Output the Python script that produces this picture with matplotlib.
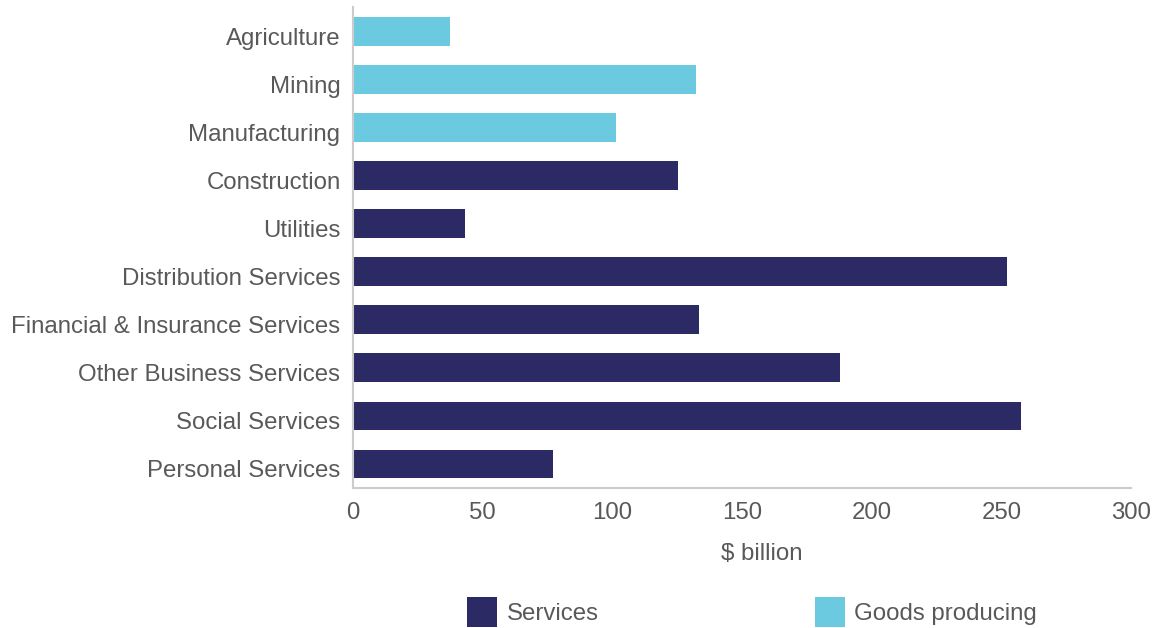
import matplotlib.pyplot as plt
import matplotlib.transforms as mtransforms
from matplotlib.patches import Patch

plt.rcParams['font.family'] = ['Liberation Sans', 'DejaVu Sans']

industries = [
    "Agriculture", "Mining", "Manufacturing", "Construction", "Utilities",
    "Distribution Services", "Financial & Insurance Services",
    "Other Business Services", "Social Services", "Personal Services",
]
values = [37.4, 132.3, 101.4, 125.3, 43.2, 252.2, 133.4, 187.8, 257.6, 77.1]
groups = ["Goods", "Goods", "Goods", "Services", "Services", "Services",
          "Services", "Services", "Services", "Services"]

NAVY = "#2b2a64"
CYAN = "#6bcadf"
GREY_TXT = "#595959"
FS = 17.3
colors = {"Services": NAVY, "Goods": CYAN}

fig = plt.figure(figsize=(11.58, 6.28), dpi=100)
ax = fig.add_axes([353 / 1158, 1 - 488 / 628, 778 / 1158, 480.5 / 628])

ypos = list(range(len(industries)))
ax.barh(ypos, values, height=0.6, color=[colors[g] for g in groups])

ax.set_ylim(len(industries) - 0.5, -0.5)
ax.set_yticks(ypos)
ax.set_yticklabels(industries)
ax.set_xlim(0, 300)
ax.set_xticks([0, 50, 100, 150, 200, 250, 300])

ax.tick_params(axis="both", length=0, labelsize=FS, labelcolor=GREY_TXT)
ax.tick_params(axis="y", pad=9)
ax.tick_params(axis="x", pad=10)

# category labels sit a little lower than the bar centres
shift = mtransforms.ScaledTranslation(0, -5 / 100, fig.dpi_scale_trans)
for lab in ax.get_yticklabels():
    lab.set_transform(lab.get_transform() + shift)

for side in ["top", "right"]:
    ax.spines[side].set_visible(False)
for side in ["left", "bottom"]:
    ax.spines[side].set_color("#cccccc")
    ax.spines[side].set_linewidth(1.5)

ax.set_xlabel(r"\$ billion", fontsize=FS, color=GREY_TXT)
ax.xaxis.set_label_coords((762 - 353) / 778, -0.115)

handles = [Patch(facecolor=NAVY, label="Services"),
           Patch(facecolor=CYAN, label="Goods producing")]
fig.legend(handles=handles, loc="center", bbox_to_anchor=(752 / 1158, 1 - 612 / 628),
           ncol=2, frameon=False, fontsize=FS, labelcolor=GREY_TXT,
           handlelength=1.27, handleheight=1.57, handletextpad=0.38,
           columnspacing=9.0, borderpad=0)

fig.savefig("out.png", dpi=100)
